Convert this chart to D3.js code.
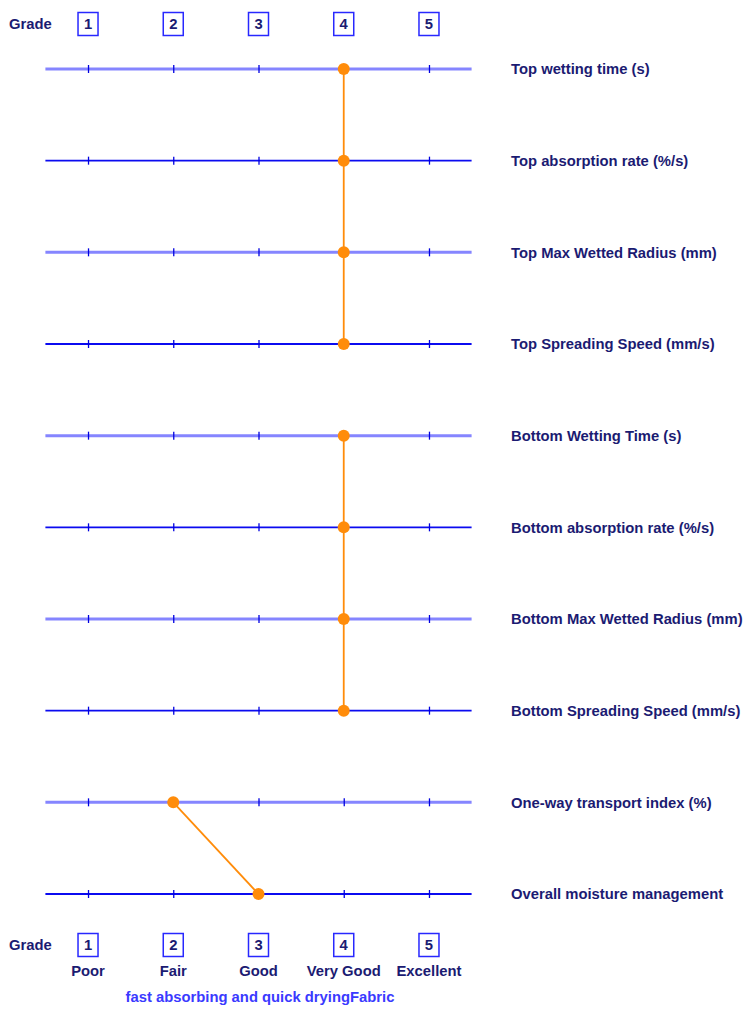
<!DOCTYPE html>
<html><head><meta charset="utf-8">
<script src="https://cdn.jsdelivr.net/npm/d3@7"></script>
<style>html,body{margin:0;padding:0;background:#fff;}svg{display:block;}</style>
</head><body>
<svg id="chart" width="752" height="1014"></svg>
<script>
const properties = [
  "Top wetting time (s)",
  "Top absorption rate (%/s)",
  "Top Max Wetted Radius (mm)",
  "Top Spreading Speed (mm/s)",
  "Bottom Wetting Time (s)",
  "Bottom absorption rate (%/s)",
  "Bottom Max Wetted Radius (mm)",
  "Bottom Spreading Speed (mm/s)",
  "One-way transport index (%)",
  "Overall moisture management"
];
const grades = [4, 4, 4, 4, 4, 4, 4, 4, 2, 3];
const groups = [[0,1,2,3],[4,5,6,7],[8,9]];
const gradeTicks = [1, 2, 3, 4, 5];
const gradeNames = ["Poor", "Fair", "Good", "Very Good", "Excellent"];
const subtitle = "fast absorbing and quick dryingFabric";

const svg = d3.select("#chart");
const font = "'Liberation Sans', Arial, sans-serif";
const fs = 14.8;
const navy = "#1b1b72";
const orange = "#ff8c0a";

const x = d3.scaleLinear().domain([0.5, 5.5]).range([45.4, 471.6]);
const y = d3.scalePoint().domain(properties).range([69, 894]);

// rows
properties.forEach((p, i) => {
  const light = i % 2 === 0;
  const g = svg.append("g").attr("transform", `translate(0,${y(p)})`);
  const axis = d3.axisBottom(x).tickValues(gradeTicks).tickSize(4).tickFormat("").tickSizeOuter(0);
  g.call(axis);
  g.select(".domain").remove();
  g.insert("line", ":first-child")
    .attr("x1", x(0.5)).attr("x2", x(5.5)).attr("y1", 0).attr("y2", 0)
    .attr("stroke", light ? "#8585ff" : "#0b0bf0")
    .attr("stroke-width", light ? 3 : 1.8);
  g.selectAll(".tick line").attr("y1", -4).attr("y2", 4)
    .attr("stroke", "#0000e0").attr("stroke-width", 1.3);
  svg.append("text")
    .attr("x", 511).attr("y", y(p)).attr("dy", "0.35em")
    .attr("font-family", font).attr("font-weight", "bold").attr("font-size", fs)
    .attr("fill", navy).text(p);
});

// connecting lines per group
const line = d3.line().x(i => x(grades[i])).y(i => y(properties[i]));
groups.forEach(gr => {
  svg.append("path").attr("d", line(gr)).attr("fill", "none")
    .attr("stroke", orange).attr("stroke-width", 1.8);
});
svg.selectAll("circle.pt").data(properties).enter().append("circle")
  .attr("class", "pt")
  .attr("cx", (d, i) => x(grades[i])).attr("cy", d => y(d))
  .attr("r", 6).attr("fill", orange);

// grade header/footer
function gradeRow(cy, withNames) {
  svg.append("text").attr("x", 9).attr("y", cy).attr("dy", "0.35em")
    .attr("font-family", font).attr("font-weight", "bold").attr("font-size", fs)
    .attr("fill", navy).text("Grade");
  gradeTicks.forEach((t, i) => {
    svg.append("rect").attr("x", x(t) - 10).attr("y", cy - 11.5).attr("width", 20).attr("height", 23)
      .attr("fill", "none").attr("stroke", "#2828ff").attr("stroke-width", 1.5);
    svg.append("text").attr("x", x(t)).attr("y", cy).attr("dy", "0.35em")
      .attr("text-anchor", "middle")
      .attr("font-family", font).attr("font-weight", "bold").attr("font-size", fs)
      .attr("fill", navy).text(t);
    if (withNames) {
      svg.append("text").attr("x", x(t)).attr("y", cy + 26).attr("dy", "0.35em")
        .attr("text-anchor", "middle")
        .attr("font-family", font).attr("font-weight", "bold").attr("font-size", fs)
        .attr("fill", navy).text(gradeNames[i]);
    }
  });
}
gradeRow(24, false);
gradeRow(945, true);

svg.append("text").attr("x", 260).attr("y", 997).attr("dy", "0.35em")
  .attr("text-anchor", "middle")
  .attr("font-family", font).attr("font-weight", "bold").attr("font-size", fs)
  .attr("fill", "#3a3aff").text(subtitle);
</script>
</body></html>
